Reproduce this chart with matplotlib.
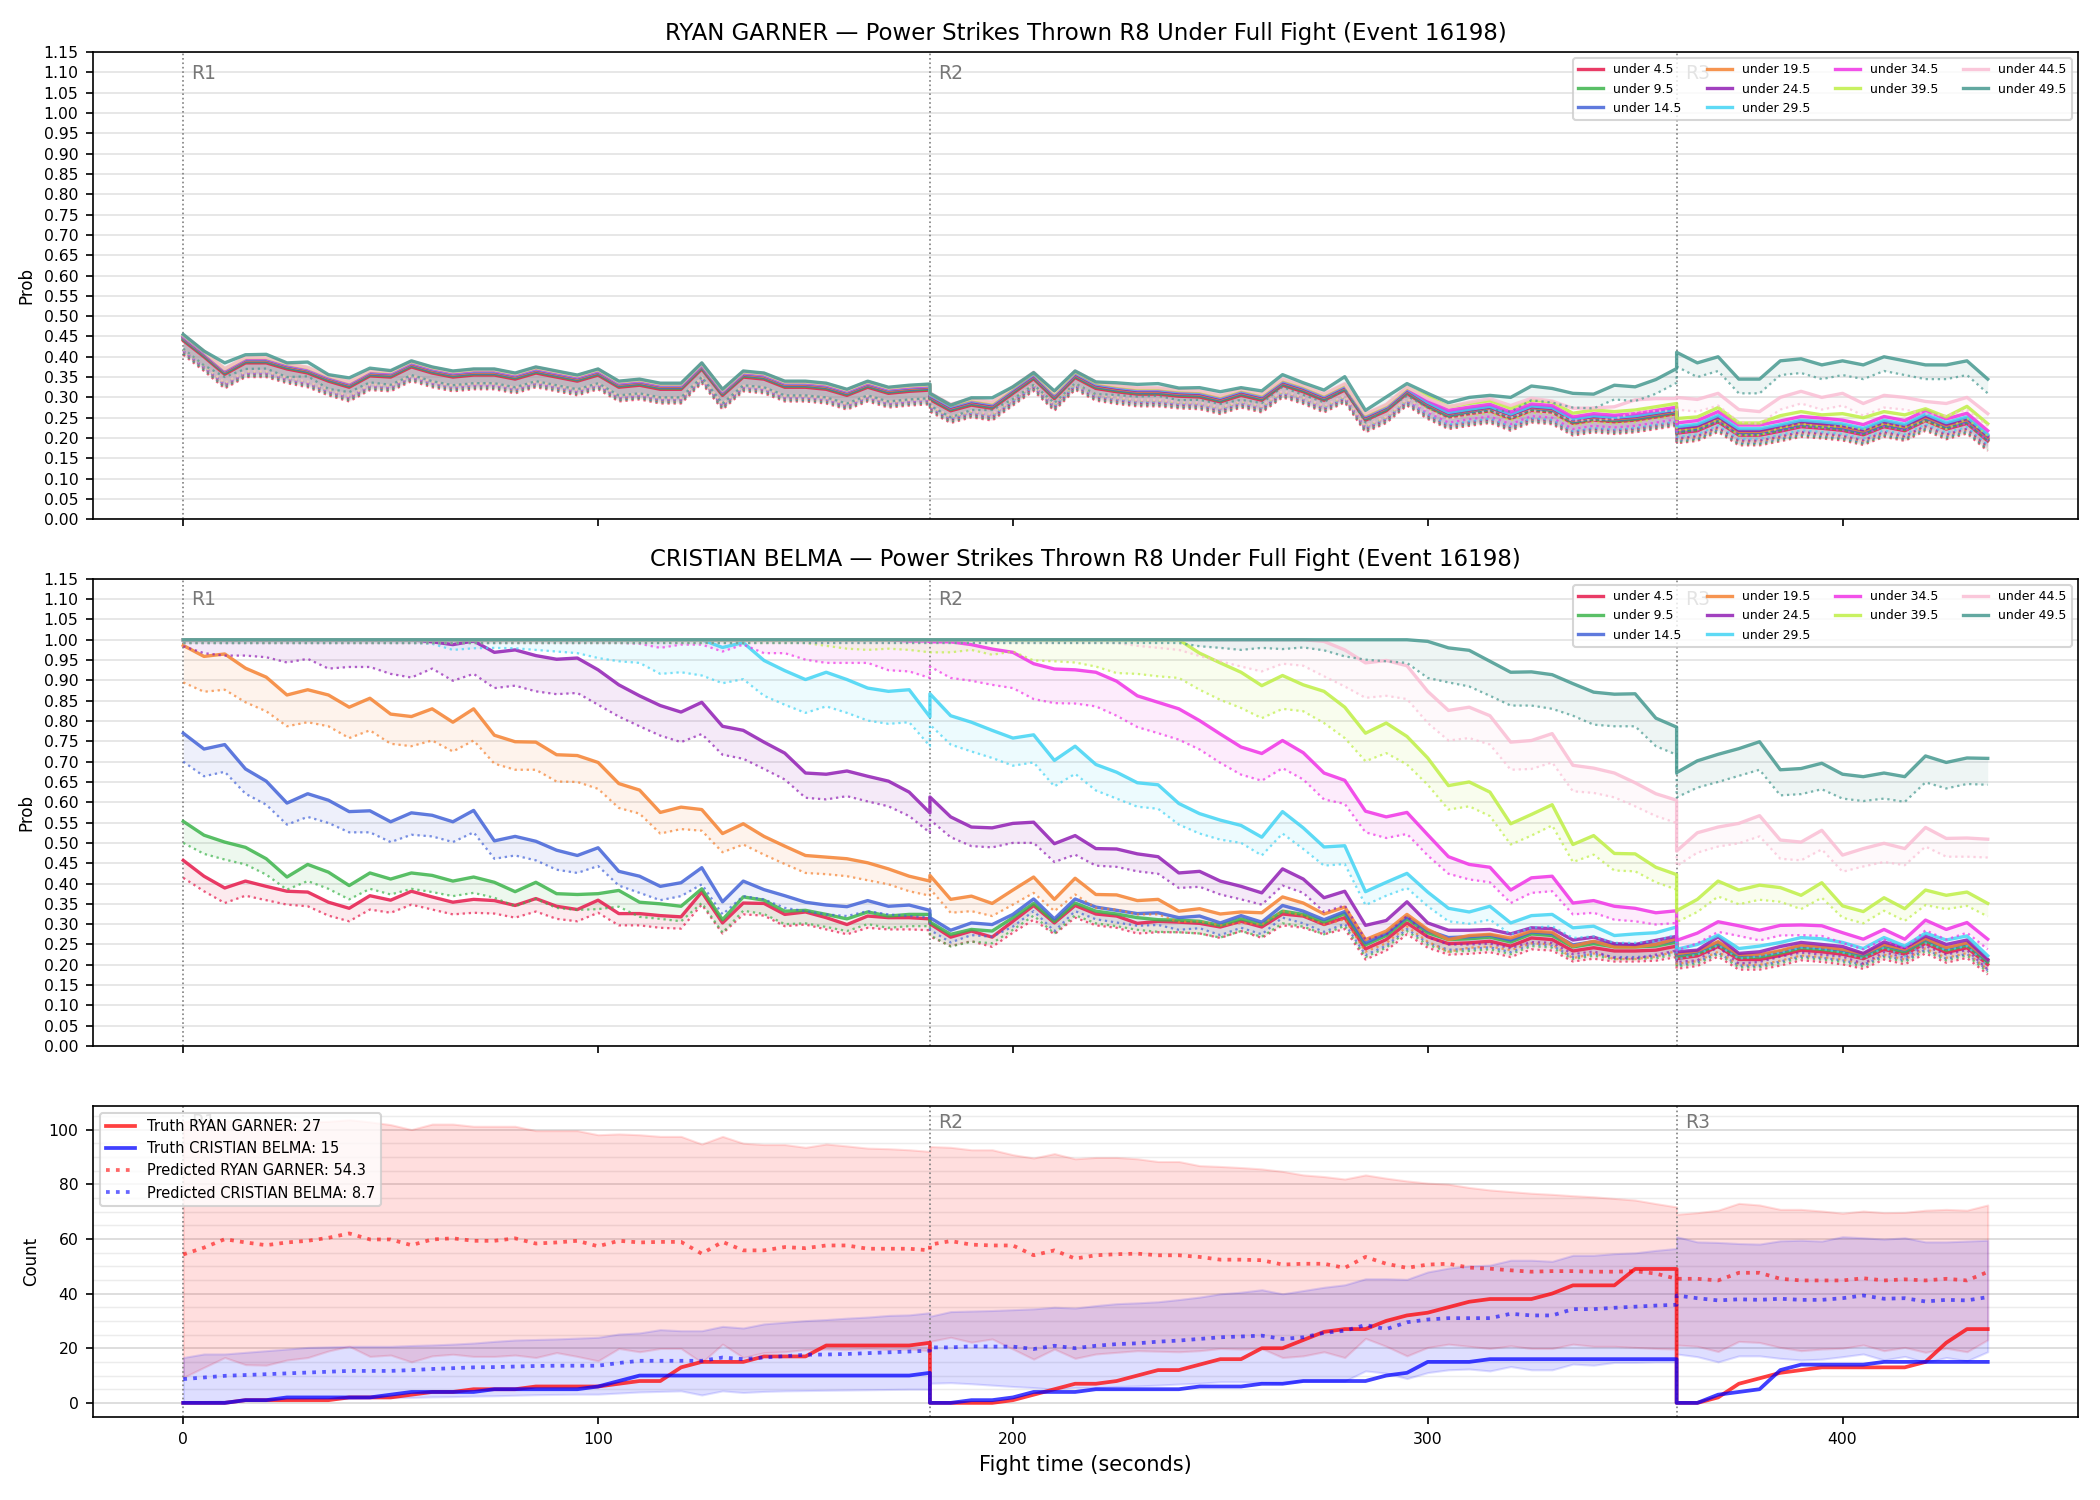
import numpy as np
import matplotlib
matplotlib.use("Agg")
import matplotlib.pyplot as plt
import matplotlib.transforms as mtransforms
from matplotlib.ticker import MultipleLocator

# ====== CONFIG ======
FIGHTER_A = "RYAN GARNER"
FIGHTER_B = "CRISTIAN BELMA"
MARKET = "Power Strikes Thrown R8 Under Full Fight (Event 16198)"
ROUND_STARTS = [0, 180, 360]
ROUND_LABELS = ["R1", "R2", "R3"]
LINES = ["under 4.5", "under 9.5", "under 14.5", "under 19.5", "under 24.5",
         "under 29.5", "under 34.5", "under 39.5", "under 44.5", "under 49.5"]
COLORS = ["#e6194b", "#3cb44b", "#4363d8", "#f58231", "#911eb4",
          "#42d4f4", "#f032e6", "#bfef45", "#fabed4", "#469990"]

# samples every 5 s, each round restarts at its own start (R1 | R2 | R3)
TIME = np.concatenate([np.arange(0, 181, 5), np.arange(180, 361, 5), np.arange(360, 436, 5)])

# ====== RYAN GARNER probabilities (per mille), solid line and dotted lower line ======
G_U45 = [440,400,357,385,385,370,360,340,325,353,350,375,360,350,355,355,345,360,350,340,355,325,330,320,320,370,305,350,345,325,325,320,305,325,310,315,318,
         295,267,281,273,310,346,297,349,322,314,308,308,303,301,289,305,293,330,314,293,318,244,267,310,277,252,260,267,248,268,264,236,244,240,244,252,260,
         212,218,240,207,207,217,228,224,219,208,228,218,243,222,236,193]
G_U45_LO = [405,365,322,350,350,335,325,305,290,318,315,340,325,315,320,320,310,325,315,305,320,290,295,285,285,335,270,315,310,290,290,285,270,290,275,280,283,
            265,237,251,243,280,316,267,319,292,284,278,278,273,271,259,275,263,300,284,263,288,214,237,280,247,222,230,237,218,238,234,206,214,210,214,222,230,
            187,193,215,182,182,192,203,199,194,183,203,193,218,197,211,168]
G_U95 = [443,403,360,388,388,373,363,343,328,356,353,378,363,353,358,358,348,363,353,343,358,328,333,323,323,373,308,353,348,328,328,323,308,328,313,318,321,
         298,270,284,276,313,349,300,352,325,317,311,311,306,304,292,308,296,333,317,296,321,247,270,313,280,255,263,270,251,271,267,239,247,243,247,255,263,
         215,221,243,210,210,220,231,227,222,211,231,221,246,225,239,196]
G_U95_LO = [408,368,325,353,353,338,328,308,293,321,318,343,328,318,323,323,313,328,318,308,323,293,298,288,288,338,273,318,313,293,293,288,273,293,278,283,286,
            268,240,254,246,283,319,270,322,295,287,281,281,276,274,262,278,266,303,287,266,291,217,240,283,250,225,233,240,221,241,237,209,217,213,217,225,233,
            190,196,218,185,185,195,206,202,197,186,206,196,221,200,214,171]
G_U145 = [445,405,362,390,390,375,365,345,330,358,355,380,365,355,360,360,350,365,355,345,360,330,335,325,325,375,310,355,350,330,330,325,310,330,315,320,323,
          300,272,286,278,315,351,302,354,327,319,313,313,308,306,294,310,298,335,319,298,323,249,272,315,282,257,265,272,253,273,269,241,249,245,249,257,265,
          218,224,246,213,213,223,234,230,225,214,234,224,249,228,242,199]
G_U145_LO = [410,370,327,355,355,340,330,310,295,323,320,345,330,320,325,325,315,330,320,310,325,295,300,290,290,340,275,320,315,295,295,290,275,295,280,285,288,
             270,242,256,248,285,321,272,324,297,289,283,283,278,276,264,280,268,305,289,268,293,219,242,285,252,227,235,242,223,243,239,211,219,215,219,227,235,
             193,199,221,188,188,198,209,205,200,189,209,199,224,203,217,174]
G_U195 = [447,407,364,392,392,377,367,347,332,360,357,382,367,357,362,362,352,367,357,347,362,332,337,327,327,377,312,357,352,332,332,327,312,332,317,322,325,
          302,274,288,280,317,353,304,356,329,321,315,315,310,308,296,312,300,337,321,300,325,251,274,317,284,259,267,274,255,275,271,243,251,247,251,259,267,
          221,227,249,216,216,226,237,233,228,217,237,227,252,231,245,202]
G_U195_LO = [412,372,329,357,357,342,332,312,297,325,322,347,332,322,327,327,317,332,322,312,327,297,302,292,292,342,277,322,317,297,297,292,277,297,282,287,290,
             272,244,258,250,287,323,274,326,299,291,285,285,280,278,266,282,270,307,291,270,295,221,244,287,254,229,237,244,225,245,241,213,221,217,221,229,237,
             196,202,224,191,191,201,212,208,203,192,212,202,227,206,220,177]
G_U245 = [449,409,366,394,394,379,369,349,334,362,359,384,369,359,364,364,354,369,359,349,364,334,339,329,329,379,314,359,354,334,334,329,314,334,319,324,327,
          304,276,290,282,319,355,306,358,331,323,317,317,312,310,298,314,302,339,323,302,327,253,276,319,286,261,269,276,257,277,273,245,253,249,253,261,269,
          224,230,252,219,219,229,240,236,231,220,240,230,255,234,248,205]
G_U245_LO = [414,374,331,359,359,344,334,314,299,327,324,349,334,324,329,329,319,334,324,314,329,299,304,294,294,344,279,324,319,299,299,294,279,299,284,289,292,
             274,246,260,252,289,325,276,328,301,293,287,287,282,280,268,284,272,309,293,272,297,223,246,289,256,231,239,246,227,247,243,215,223,219,223,231,239,
             199,205,227,194,194,204,215,211,206,195,215,205,230,209,223,180]
G_U295 = [450,410,367,395,395,380,370,350,335,363,360,385,370,360,365,365,355,370,360,350,365,335,340,330,330,380,315,360,355,335,335,330,315,335,320,325,328,
          306,278,292,284,321,357,308,360,333,325,319,319,314,312,300,316,304,341,325,304,329,255,278,321,288,263,271,278,259,279,275,247,255,251,255,263,271,
          228,234,256,223,223,233,244,240,235,224,244,234,259,238,252,209]
G_U295_LO = [415,375,332,360,360,345,335,315,300,328,325,350,335,325,330,330,320,335,325,315,330,300,305,295,295,345,280,325,320,300,300,295,280,300,285,290,293,
             276,248,262,254,291,327,278,330,303,295,289,289,284,282,270,286,274,311,295,274,299,225,248,291,258,233,241,248,229,249,245,217,225,221,225,233,241,
             203,209,231,198,198,208,219,215,210,199,219,209,234,213,227,184]
G_U345 = [451,411,368,396,396,381,371,351,336,364,361,386,371,361,366,366,356,371,361,351,366,336,341,331,331,381,316,361,356,336,336,331,316,336,321,326,329,
          308,280,294,286,323,359,310,362,335,327,321,321,316,314,302,318,306,343,327,306,331,257,280,323,293,268,276,283,264,284,280,252,260,256,260,268,276,
          237,243,265,232,232,242,253,249,244,233,253,243,268,247,261,218]
G_U345_LO = [416,376,333,361,361,346,336,316,301,329,326,351,336,326,331,331,321,336,326,316,331,301,306,296,296,346,281,326,321,301,301,296,281,301,286,291,294,
             278,250,264,256,293,329,280,332,305,297,291,291,286,284,272,288,276,313,297,276,301,227,250,293,263,238,246,253,234,254,250,222,230,226,230,238,246,
             212,218,240,207,207,217,228,224,219,208,228,218,243,222,236,193]
G_U395 = [453,413,370,398,398,383,373,353,338,366,363,388,373,363,368,368,358,373,363,353,368,338,343,333,333,383,318,363,358,338,338,333,318,338,323,328,331,
          309,281,295,287,324,360,311,363,336,328,322,322,317,315,303,319,307,344,328,307,332,258,281,324,302,277,285,292,273,293,289,261,269,265,269,277,285,
          248,252,275,237,237,255,265,257,260,250,265,257,272,252,278,235]
G_U395_LO = [418,378,335,363,363,348,338,318,303,331,328,353,338,328,333,333,323,338,328,318,333,303,308,298,298,348,283,328,323,303,303,298,283,303,288,293,296,
             279,251,265,257,294,330,281,333,306,298,292,292,287,285,273,289,277,314,298,277,302,228,251,294,272,247,255,262,243,263,259,231,239,235,239,247,255,
             218,222,245,207,207,225,235,227,230,220,235,227,242,222,248,205]
G_U445 = [454,414,371,399,399,384,374,354,339,367,364,389,374,364,369,369,359,374,364,354,369,339,344,334,334,384,319,364,359,339,339,334,319,339,324,329,332,
          311,283,297,289,326,362,313,365,338,330,324,324,319,317,305,321,309,346,330,309,334,260,283,326,297,277,288,297,280,298,291,273,274,277,294,297,297,
          300,295,310,270,265,300,315,300,310,285,305,300,290,285,300,260]
G_U445_LO = [419,379,336,364,364,349,339,319,304,332,329,354,339,329,334,334,324,339,329,319,334,304,309,299,299,349,284,329,324,304,304,299,284,304,289,294,297,
             281,253,267,259,296,332,283,335,308,300,294,294,289,287,275,291,279,316,300,279,304,230,253,296,267,247,258,267,250,268,261,243,244,247,264,267,267,
             270,265,280,240,235,270,285,270,280,255,275,270,260,255,270,230]
G_U495 = [455,414,385,405,406,385,387,356,348,372,366,390,375,365,370,370,360,375,365,355,370,340,345,335,335,385,320,365,360,340,340,335,320,340,325,330,333,
          310,281,299,299,326,361,316,365,338,336,332,334,323,324,314,324,316,356,336,318,351,268,301,334,310,287,300,305,300,328,322,310,308,330,326,344,371,
          411,385,400,345,345,390,395,380,390,380,400,390,380,380,390,345]
G_U495_LO = [420,379,350,370,371,350,352,321,313,337,331,355,340,330,335,335,325,340,330,320,335,305,310,300,300,350,285,330,325,305,305,300,285,305,290,295,298,
             280,251,269,269,296,331,286,335,308,306,302,304,293,294,284,294,286,326,306,288,321,238,271,304,275,252,265,270,265,293,287,275,273,295,291,309,336,
             376,350,365,310,310,355,360,345,355,345,365,355,345,345,355,310]

# ====== CRISTIAN BELMA probabilities (per mille) ======
C_U45 = [457,418,389,406,393,381,379,354,339,370,359,381,367,354,361,358,346,363,344,336,359,326,326,321,318,379,303,352,351,324,330,316,299,320,316,316,313,
         301,268,283,268,307,346,303,346,325,320,302,307,305,302,293,307,293,325,320,299,316,239,262,303,269,252,254,258,246,266,262,234,242,234,234,236,246,
         215,222,245,213,213,223,236,232,226,215,238,226,253,230,242,201]
C_U45_LO = [414,381,352,370,359,348,344,321,307,336,328,348,336,324,328,326,316,331,313,307,328,297,297,291,289,348,277,324,321,295,299,287,275,291,287,287,285,
            270,246,258,244,279,311,275,316,297,291,277,280,280,277,266,283,266,297,291,275,288,213,235,275,242,225,227,231,219,238,235,208,215,208,208,210,219,
            190,197,220,188,188,198,211,207,201,190,213,201,228,205,217,176]
C_U95 = [553,519,502,489,461,416,447,428,395,426,411,426,420,406,416,403,380,403,375,373,375,383,354,350,344,387,311,367,359,332,334,324,313,330,320,324,324,
         305,275,287,283,316,351,307,352,332,325,316,311,310,307,297,313,299,332,324,305,326,249,272,313,279,262,264,268,256,276,272,244,252,244,244,246,256,
         221,228,251,219,219,229,242,238,232,221,244,232,259,236,248,207]
C_U95_LO = [500,473,459,447,422,385,406,387,361,387,373,387,379,369,377,365,344,362,340,335,337,343,318,313,307,352,279,333,325,300,302,293,283,300,291,295,295,
            273,245,257,253,286,321,277,322,302,295,286,281,280,277,267,283,269,302,294,275,296,219,242,283,249,232,234,238,226,246,242,214,222,214,214,216,226,
            196,203,226,194,194,204,217,213,207,196,219,207,234,211,223,182]
C_U145 = [770,731,742,682,652,598,621,605,577,579,552,574,568,552,580,505,516,504,482,469,488,430,418,393,402,439,355,406,385,370,354,347,343,358,344,347,334,
          316,285,303,299,324,362,313,362,342,334,326,328,316,320,303,321,305,346,332,311,331,254,277,318,284,267,269,273,261,281,277,249,257,249,249,251,261,
          225,232,255,223,223,233,246,242,236,225,248,236,263,240,252,211]
C_U145_LO = [700,664,675,621,594,545,564,549,526,526,502,520,516,502,526,461,469,457,434,426,443,395,377,359,369,398,324,369,361,340,332,324,320,332,324,320,316,
             286,255,273,269,294,332,283,332,312,304,296,298,286,290,273,291,275,316,302,281,301,224,247,288,254,237,239,243,231,251,247,219,227,219,219,221,231,
             200,207,230,198,198,208,221,217,211,200,223,211,238,215,227,186]
C_U195 = [986,959,965,930,908,864,877,864,834,856,817,811,830,797,830,765,749,748,717,715,698,646,630,575,588,582,523,547,516,492,469,465,461,451,436,418,406,
          420,361,369,351,384,416,361,413,373,372,358,361,332,338,325,330,328,367,352,325,342,262,283,324,287,262,272,275,266,283,280,246,258,244,244,250,264,
          227,234,257,225,225,235,248,244,238,227,250,238,265,242,254,213]
C_U195_LO = [895,872,877,846,824,787,797,787,758,777,744,738,752,725,752,695,680,680,651,650,633,586,572,523,534,530,477,496,471,448,426,423,418,408,398,381,370,
             387,328,332,320,348,377,332,373,340,336,324,324,305,307,297,303,299,332,321,299,312,232,253,294,257,232,242,245,236,253,250,216,228,214,214,220,234,
             202,209,232,200,200,210,223,219,213,202,225,213,240,217,229,188]
C_U245 = ([1000] * 12 + [995,988,997,969,975,961,952,955,926,889,862,838,822,846,787,777,748,721,672,669,677,664,652,625,574] +
          [613,564,539,537,548,551,498,518,486,485,473,466,426,430,406,393,377,436,411,365,381,297,309,355,303,285,285,287,276,291,289,261,268,252,250,260,270] +
          [232,236,269,228,232,245,255,250,245,228,256,242,271,250,261,213])
C_U245_LO = [984,967,961,961,957,944,953,929,933,933,916,907,929,899,916,881,887,873,866,869,840,811,787,764,748,768,717,707,682,656,611,607,615,602,590,566,525,
             557,514,492,489,500,500,453,471,444,441,430,424,389,392,373,361,348,395,377,330,346,262,274,320,268,250,250,252,241,256,254,226,233,217,215,225,235,
             207,211,244,203,207,220,230,225,220,203,231,217,246,225,236,188]
C_U295 = ([1000] * 26 + [981,993,949,924,902,920,902,881,873,877,810] +
          [867,813,797,777,758,766,703,738,693,674,648,643,597,572,556,543,514,577,537,490,493,380,403,425,379,339,330,344,303,321,324,291,295,272,276,279,293] +
          [238,250,273,240,246,255,267,264,255,240,267,246,278,261,271,222])
C_U295_LO = ([992] * 12 + [990,975,979,980,979,975,971,967,955,947,943,916,920,912,893,903,862,840,820,836,820,801,793,797,738] +
             [791,742,725,709,690,698,639,670,629,609,589,584,545,523,508,500,469,523,485,444,448,347,370,389,344,307,301,311,275,291,295,266,270,254,254,258,275] +
             [213,225,248,215,221,230,242,239,230,215,242,221,253,236,246,197])
C_U345 = ([1000] * 35 + [997, 997] +
          [995,995,988,977,969,941,928,926,920,898,862,846,830,801,768,736,720,752,722,672,654,578,564,575,520,466,447,440,384,414,418,352,358,344,339,328,333] +
          [260,278,306,296,285,297,298,296,279,263,287,263,310,287,304,263])
C_U345_LO = ([992] * 22 + [990,980,988,988,971,988,967,967,951,943,943,943,925,922,906] +
             [934,906,899,889,881,854,844,843,836,813,785,770,754,730,697,668,653,684,656,607,596,526,512,522,469,424,410,403,352,377,381,324,328,311,307,299,303] +
             [235,253,281,271,260,272,273,271,254,238,262,238,285,262,279,238])
C_U395 = ([1000] * 37 + [1000] * 13 +
          [967,943,920,887,912,889,873,834,770,795,762,709,641,650,625,547,570,594,496,518,474,473,440,422] +
          [333,361,406,384,396,390,371,402,345,331,365,338,384,371,379,351])
C_U395_LO = ([992] * 31 + [985,978,975,978,975,969] +
             [969,969,975,963,971,949,947,944,934,918,916,910,906,877,852,832,807,830,824,795,758,701,721,693,643,582,590,566,496,518,543,453,471,432,430,403,385] +
             [305,330,368,349,360,355,337,365,316,302,333,308,347,337,345,319])
C_U445 = ([1000] * 37 + [1000] * 19 +
          [996,975,943,949,936,873,826,834,813,748,752,769,691,684,672,648,621,605] +
          [480,525,539,548,567,507,502,531,470,486,499,486,538,511,512,509])
C_U445_LO = ([992] * 37 + [992] * 10 +
             [985,980,975,960,947,934,922,941,936,910,885,857,862,854,795,752,758,742,680,682,698,627,623,612,590,566,549] +
             [443,476,491,499,516,461,457,484,429,442,453,445,491,466,466,464])
C_U495 = ([1000] * 37 + [1000] * 24 +
          [996,980,974,947,920,921,914,892,871,866,867,807,785] +
          [673,702,718,732,749,680,683,696,669,663,672,663,714,698,709,708])
C_U495_LO = ([992] * 37 + [992] * 12 +
             [992,984,980,975,980,977,981,974,959,951,947,943,906,895,885,862,838,838,830,813,791,787,787,738,717] +
             [612,636,650,665,680,617,620,632,609,603,609,601,649,634,645,643])

# ====== COUNTS ======
TRUTH_G = [0,0,0,1,1,1,1,1,2,2,2,3,4,4,5,5,5,6,6,6,6,7,8,8,13,15,15,15,17,17,17,21,21,21,21,21,22,
           0,0,0,0,1,3,5,7,7,8,10,12,12,14,16,16,20,20,23,26,27,27,30,32,33,35,37,38,38,38,40,43,43,43,49,49,49,
           0,0,2,7,9,11,12,13,13,13,13,13,15,22,27,27]
TRUTH_C = [0,0,0,1,1,2,2,2,2,2,3,4,4,4,4,5,5,5,5,5,6,8,10,10,10,10,10,10,10,10,10,10,10,10,10,10,11,
           0,0,1,1,2,4,4,4,5,5,5,5,5,6,6,6,7,7,8,8,8,8,10,11,15,15,15,16,16,16,16,16,16,16,16,16,16,
           0,0,3,4,5,12,14,14,14,14,15,15,15,15,15,15]
PRED_G = [54.3,56.8,59.9,58.7,57.7,58.7,59.3,60.4,62.0,59.8,59.8,57.7,59.8,60.2,59.3,59.3,60.2,58.3,58.7,59.3,57.3,59.3,58.7,58.9,58.9,54.6,58.9,55.8,55.8,57.0,56.6,57.6,57.6,56.4,56.4,56.4,55.8,
          57.9,59.2,57.9,57.6,57.6,54.0,55.8,52.8,54.0,54.4,54.6,54.0,54.0,53.4,52.4,52.4,52.2,50.6,50.9,50.9,49.4,53.4,50.9,49.4,50.6,50.9,49.5,49.1,48.5,48.0,48.2,48.2,48.0,48.0,48.2,47.3,45.4,
          45.4,45.4,44.8,47.6,47.6,45.4,44.8,44.8,44.8,45.6,44.8,45.2,44.8,45.4,44.8,47.9]
PRED_C = [8.7,9.3,9.9,10.2,10.5,10.8,11.1,11.4,11.7,11.7,11.7,12.0,12.4,12.7,13.0,13.1,13.3,13.5,13.6,13.6,13.6,14.6,15.4,15.4,15.4,15.4,16.6,16.0,16.6,17.1,17.6,17.7,17.9,18.2,18.5,18.8,19.1,
          20.3,20.3,20.7,20.6,20.6,19.7,20.9,20.0,20.9,21.5,21.8,22.4,22.8,23.4,24.0,24.3,24.6,23.4,24.0,25.6,26.4,28.5,27.0,29.5,30.5,31.0,31.0,31.0,32.6,32.0,32.0,34.3,34.3,34.8,35.2,35.6,35.9,
          39.3,38.3,37.5,37.9,37.7,38.1,37.7,37.7,38.3,39.3,38.1,38.3,37.1,37.7,37.5,38.7]
BAND_G_HI = [103.0,103.3,103.3,102.8,103.0,103.3,102.8,103.0,103.6,102.8,101.8,100.0,102.0,102.0,101.2,101.2,101.2,99.6,99.6,99.6,98.1,98.4,98.1,97.5,97.5,94.7,97.5,95.0,94.5,94.5,93.5,94.7,94.0,93.2,93.0,92.6,92.0,
             93.8,93.5,92.6,92.6,90.8,89.6,91.2,89.3,89.8,89.8,89.3,88.3,88.3,86.8,86.5,86.1,85.6,84.7,83.4,82.8,81.9,83.4,82.2,81.2,80.4,80.0,78.8,77.9,77.3,76.7,76.3,75.8,75.4,74.8,74.2,72.9,71.7,
             69.0,69.6,70.5,73.0,72.4,70.8,70.8,70.2,69.4,70.2,69.6,69.7,70.5,70.8,70.5,72.4]
BAND_G_LO = [9.3,13.0,16.6,14.0,13.8,15.7,16.6,19.0,20.7,17.0,17.5,15.0,17.2,17.8,17.0,17.0,17.5,16.6,18.4,17.0,15.4,19.9,18.7,19.9,19.9,14.8,21.5,16.6,18.4,18.7,19.5,19.7,19.5,19.9,19.5,19.7,19.1,
             22.5,24.0,22.2,23.4,19.7,16.0,19.7,16.3,17.9,18.5,19.1,18.9,18.7,19.1,19.9,19.7,19.9,16.6,17.2,18.7,16.6,23.6,20.7,17.2,20.3,21.5,20.7,19.9,20.9,19.9,19.9,21.5,20.7,20.7,20.3,19.9,19.7,
             21.2,20.7,18.8,22.5,22.1,20.3,19.1,19.7,20.0,21.2,19.1,20.3,18.5,20.0,18.7,23.1]
BAND_C_HI = [16.6,17.9,17.9,18.5,19.1,19.7,20.3,20.5,20.7,20.7,20.7,21.0,21.2,21.5,21.9,22.5,23.0,23.2,23.4,23.7,24.0,25.2,25.6,26.8,26.4,26.4,28.0,27.4,28.9,29.5,30.1,30.5,31.0,31.4,32.0,32.2,33.0,
             31.7,33.4,33.6,33.8,34.1,34.4,35.0,34.7,35.6,36.3,36.6,37.0,37.8,38.7,39.9,40.5,41.4,39.9,41.1,42.3,43.2,45.4,45.4,45.2,47.9,49.3,50.1,50.4,52.2,52.2,51.8,54.0,54.0,54.6,54.9,55.8,56.5,
             60.8,58.9,58.7,58.3,58.1,59.3,59.5,59.2,60.8,60.4,59.9,60.4,58.9,58.9,59.2,59.5]
BAND_C_LO = [0.3,0.5,0.7,0.9,1.1,1.2,1.4,1.5,1.6,1.8,1.9,2.0,2.2,2.3,2.5,2.6,2.8,3.0,3.1,3.2,3.2,3.6,4.0,4.2,4.4,2.9,4.4,3.8,4.2,4.4,4.5,4.6,4.7,4.8,4.9,5.0,5.0,
             7.2,7.4,7.0,6.5,6.0,5.6,5.0,5.6,5.6,6.0,6.2,6.5,6.9,7.2,7.7,7.7,7.5,7.2,8.0,8.0,8.0,11.7,10.9,8.9,11.1,12.1,12.4,11.7,13.3,12.1,12.1,14.2,13.8,14.8,14.8,15.0,15.0,
             17.9,16.9,15.0,17.2,17.2,16.3,15.7,16.0,16.9,17.9,15.7,17.0,14.8,16.6,15.4,18.7]

G_SOLID = [G_U45, G_U95, G_U145, G_U195, G_U245, G_U295, G_U345, G_U395, G_U445, G_U495]
G_LOW = [G_U45_LO, G_U95_LO, G_U145_LO, G_U195_LO, G_U245_LO, G_U295_LO, G_U345_LO, G_U395_LO, G_U445_LO, G_U495_LO]
C_SOLID = [C_U45, C_U95, C_U145, C_U195, C_U245, C_U295, C_U345, C_U395, C_U445, C_U495]
C_LOW = [C_U45_LO, C_U95_LO, C_U145_LO, C_U195_LO, C_U245_LO, C_U295_LO, C_U345_LO, C_U395_LO, C_U445_LO, C_U495_LO]

plt.rcParams["xtick.labelsize"] = 7.5
plt.rcParams["ytick.labelsize"] = 7.5


def mark_rounds(ax):
    trans = mtransforms.blended_transform_factory(ax.transData, ax.transAxes)
    for start, lab in zip(ROUND_STARTS, ROUND_LABELS):
        ax.axvline(start, color="gray", ls=":", lw=0.8, zorder=1)
        ax.text(start + 2, 0.975, lab, transform=trans, va="top", ha="left",
                color="#777777", fontsize=9, zorder=2)


def draw_probs(ax, solids, lows, fighter):
    for name, col, hi, lo in zip(LINES, COLORS, solids, lows):
        hi = np.array(hi) / 1000
        lo = np.array(lo) / 1000
        ax.fill_between(TIME, lo, hi, color=col, alpha=0.09, linewidth=0)
        ax.plot(TIME, hi, color=col, lw=1.6, alpha=0.85, label=name)
        ax.plot(TIME, lo, color=col, lw=1.1, ls=":", alpha=0.7)
    mark_rounds(ax)
    ax.set_ylim(0, 1.15)
    ax.set_yticks(np.arange(0, 1.1501, 0.05))
    ax.set_ylabel("Prob", fontsize=8)
    ax.set_title(f"{fighter} — {MARKET}", fontsize=11)
    ax.grid(axis="y", color="#e3e3e3", lw=0.8)
    ax.set_axisbelow(True)
    ax.legend(loc="upper right", ncol=4, fontsize=6, framealpha=0.8)


fig = plt.figure(figsize=(14, 10), dpi=150)
gs = fig.add_gridspec(3, 1, height_ratios=[3, 3, 2], left=0.0443, right=0.9895,
                      top=0.9653, bottom=0.0553, hspace=0.1433)
ax1 = fig.add_subplot(gs[0])
ax2 = fig.add_subplot(gs[1], sharex=ax1)
ax3 = fig.add_subplot(gs[2], sharex=ax1)

draw_probs(ax1, G_SOLID, G_LOW, FIGHTER_A)
draw_probs(ax2, C_SOLID, C_LOW, FIGHTER_B)
ax1.tick_params(labelbottom=False)
ax2.tick_params(labelbottom=False)

# ====== COUNT PANEL ======
ax3.fill_between(TIME, BAND_G_LO, BAND_G_HI, color="red", alpha=0.13)
ax3.fill_between(TIME, BAND_C_LO, BAND_C_HI, color="blue", alpha=0.13)
ax3.plot(TIME, TRUTH_G, color="red", lw=1.8, alpha=0.75, label=f"Truth {FIGHTER_A}: {TRUTH_G[-1]}")
ax3.plot(TIME, TRUTH_C, color="blue", lw=1.8, alpha=0.75, label=f"Truth {FIGHTER_B}: {TRUTH_C[-1]}")
ax3.plot(TIME, PRED_G, color="red", lw=1.8, ls=":", alpha=0.6, label=f"Predicted {FIGHTER_A}: {PRED_G[0]}")
ax3.plot(TIME, PRED_C, color="blue", lw=1.8, ls=":", alpha=0.6, label=f"Predicted {FIGHTER_B}: {PRED_C[0]}")
mark_rounds(ax3)
ax3.yaxis.set_minor_locator(MultipleLocator(5))
ax3.tick_params(axis="y", which="minor", length=0)
ax3.grid(axis="y", which="major", color="#d8d8d8", lw=0.8)
ax3.grid(axis="y", which="minor", color="#ececec", lw=0.7)
ax3.set_axisbelow(True)
ax3.set_ylabel("Count", fontsize=8)
ax3.set_xlabel("Fight time (seconds)", fontsize=10)
ax3.legend(loc="upper left", fontsize=7, framealpha=0.8)

fig.savefig("out.png", dpi=150)
